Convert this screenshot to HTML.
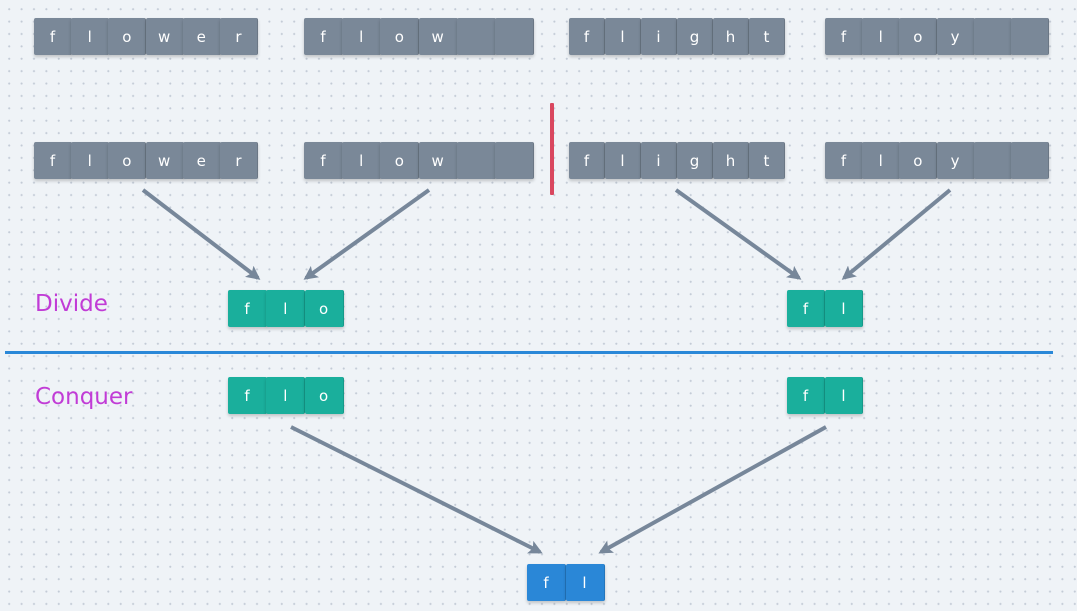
<!DOCTYPE html>
<html><head><meta charset="utf-8"><style>
body{margin:0;width:1077px;height:611px;overflow:hidden;background-color:#eff3f7;
background-image:radial-gradient(circle,#c3cbd6 0.9px,transparent 1.2px);background-size:12.4px 12.4px;background-position:3px 3px;
font-family:"DejaVu Sans","Liberation Sans",sans-serif;position:relative}
.cell{position:absolute;height:37px;color:#fff;font-size:15px;display:flex;align-items:center;justify-content:center;box-sizing:border-box;border-right:1px solid rgba(0,0,0,0.12);box-shadow:0 2px 3px rgba(0,0,0,0.2);border-radius:2px}
.g{background:#7a8898}.t{background:#1aaf9c}.b{background:#2a87d7}
.lbl{position:absolute;color:#c13cd6;font-size:23px;font-family:"DejaVu Sans","Liberation Sans",sans-serif}
svg{position:absolute;left:0;top:0}
</style></head><body>
<svg width="1077" height="611">
<defs><marker id="ah" markerWidth="14" markerHeight="14" refX="11" refY="7" orient="auto" markerUnits="userSpaceOnUse"><path d="M0,0 L14,7 L0,14 L3,7 z" fill="#77879a"/></marker></defs>
<g stroke="#77879a" stroke-width="4" fill="none" marker-end="url(#ah)">
<line x1="143" y1="190" x2="258" y2="278"/>
<line x1="429" y1="190" x2="306" y2="278"/>
<line x1="676" y1="190" x2="799" y2="278"/>
<line x1="950" y1="190" x2="844" y2="278"/>
<line x1="291" y1="427" x2="540" y2="552"/>
<line x1="826" y1="427" x2="601" y2="552"/>
</g>
<rect x="550" y="103" width="4" height="92" fill="#d9475f" rx="1"/>
<rect x="5" y="351" width="1048" height="3" fill="#2a88d8"/>
</svg>
<div class="lbl" style="left:35px;top:291px">Divide</div>
<div class="lbl" style="left:35px;top:384px">Conquer</div>
<div id="cells"></div>
<script>
var groups=[
 {x:34,y:18,w:37.2,c:'g',s:['f','l','o','w','e','r'],n:'word-flower-top'},
 {x:304,y:18,w:38.2,c:'g',s:['f','l','o','w','',''],n:'word-flow-top'},
 {x:569,y:18,w:36,c:'g',s:['f','l','i','g','h','t'],n:'word-flight-top'},
 {x:825,y:18,w:37.2,c:'g',s:['f','l','o','y','',''],n:'word-floy-top'},
 {x:34,y:142,w:37.2,c:'g',s:['f','l','o','w','e','r'],n:'word-flower'},
 {x:304,y:142,w:38.2,c:'g',s:['f','l','o','w','',''],n:'word-flow'},
 {x:569,y:142,w:36,c:'g',s:['f','l','i','g','h','t'],n:'word-flight'},
 {x:825,y:142,w:37.2,c:'g',s:['f','l','o','y','',''],n:'word-floy'},
 {x:228,y:290,w:38.3,c:'t',s:['f','l','o'],n:'prefix-flo-divide'},
 {x:787,y:290,w:38,c:'t',s:['f','l'],n:'prefix-fl-divide'},
 {x:228,y:377,w:38.3,c:'t',s:['f','l','o'],n:'prefix-flo-conquer'},
 {x:787,y:377,w:38,c:'t',s:['f','l'],n:'prefix-fl-conquer'},
 {x:527,y:564,w:38.5,c:'b',s:['f','l'],n:'result-fl'}
];
var root=document.getElementById('cells');
groups.forEach(function(g){
 var wrap=document.createElement('div');
 
 
 g.s.forEach(function(ch,i){
  var d=document.createElement('div');
  d.className='cell '+g.c;
  d.style.left=(g.x+i*g.w)+'px';d.style.top=g.y+'px';d.style.width=Math.ceil(g.w)+'px';
  d.textContent=ch;
  
  
  wrap.appendChild(d);
 });
 root.appendChild(wrap);
});
</script>
</body></html>
